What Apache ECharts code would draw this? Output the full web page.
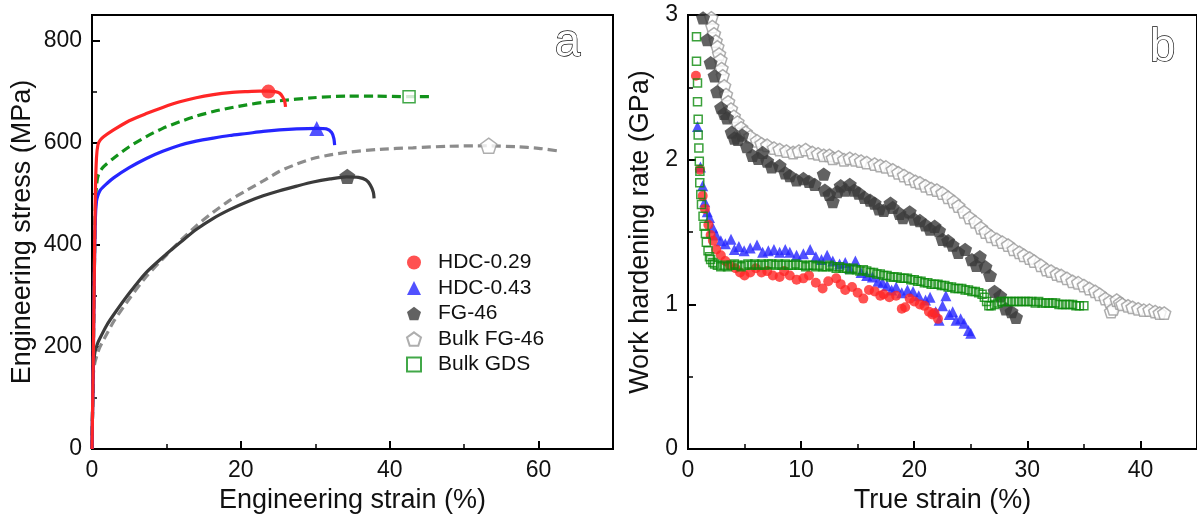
<!DOCTYPE html>
<html><head><meta charset="utf-8">
<script src="https://cdn.jsdelivr.net/npm/echarts@6/dist/echarts.min.js"></script>
<style>html,body{margin:0;padding:0;background:#fff}#c{width:1197px;height:519px}</style>
</head><body><div id="c"></div>
<script>
// ---------- names ----------
const legendNames = ['HDC-0.29', 'HDC-0.43', 'FG-46', 'Bulk FG-46', 'Bulk GDS'];

// ---------- panel a : engineering stress-strain curves [strain %, stress MPa] ----------
const curveHDC029 = [[0,0],[0.15,150],[0.3,330],[0.45,500],[0.6,570],[0.8,596],[1.1,605],[1.6,612],[2.9,625],[5,643],[7.3,657],[9.5,669],[11.8,680],[14,688],[16.3,694],[18.5,698],[20.8,700],[22.5,701],[23.7,701],[24.6,700],[25.2,697],[25.6,690],[25.9,680],[26.0,670]];
const curveHDC043 = [[0,0],[0.15,150],[0.3,330],[0.45,450],[0.6,485],[0.8,497],[1.1,507],[2,520],[2.9,531],[5,551],[7.3,569],[9.5,583],[11.8,595],[14,603],[16.3,609],[18.5,614],[20.8,618],[23,622],[25.2,625],[27.5,627],[30.2,628],[31.5,627],[32.2,620],[32.5,608],[32.6,595]];
const curveFG46 = [[0,0],[0.1,100],[0.2,165],[0.4,190],[0.7,205],[1,215],[2,243],[3,265],[5,305],[7.3,346],[10,382],[11.8,404],[14,430],[16.3,452],[18.5,469],[20.8,484],[23,496],[25.2,506],[27.5,515],[29.7,523],[32,529],[34.2,533],[35.8,532],[36.8,527],[37.4,517],[37.8,503],[37.9,491]];
const curveBulkFG46 = [[0,0],[0.1,100],[0.2,150],[0.4,170],[0.7,185],[1,198],[2,226],[3,252],[5,294],[7.3,338],[10,380],[12,410],[14,437],[16.3,464],[18.5,487],[20.8,507],[23,525],[25.2,544],[27.5,558],[29.7,569],[32,576],[34.2,581],[38.7,587],[43.1,590],[48,593],[53,594],[57,592],[60,589],[63,583]];
const curveBulkGDS = [[0,0],[0.15,150],[0.3,330],[0.45,470],[0.6,515],[0.85,537],[1.5,552],[2.86,569],[5,592],[7.3,612],[9.5,628],[11.8,641],[14,652],[16.3,661],[18.5,668],[20.8,674],[23,679],[25.2,682],[29.7,688],[34.2,691],[38,691],[42.5,690],[45.4,690]];
// ultimate tensile points (markers)
const peakHDC029 = [[23.7,700]];
const peakHDC043 = [[30.2,628]];
const peakFG46 = [[34.3,534]];
const peakBulkFG46 = [[53.3,594]];
const peakBulkGDS = [[42.6,690]];

// ---------- panel b : work hardening rate [true strain %, GPa] ----------
const whHDC029 = [[0.7,2.58],[1.05,1.93],[1.3,1.75],[1.5,1.66],[1.8,1.55],[2.0,1.48],[2.2,1.44],[2.5,1.38],[2.9,1.34],[3.3,1.30],[3.7,1.27],[4.2,1.25],[4.6,1.22],[5.0,1.20],[5.5,1.22],[6.0,1.25],[6.5,1.22],[7.0,1.23],[7.5,1.20],[8.1,1.19],[8.5,1.23],[9.0,1.20],[9.6,1.17],[10.2,1.18],[10.7,1.20],[11.3,1.15],[11.9,1.11],[12.4,1.16],[13.1,1.18],[13.5,1.14],[13.9,1.10],[14.5,1.12],[15.0,1.08],[15.5,1.04],[16.0,1.10],[16.5,1.09],[17.0,1.06],[17.3,1.07],[17.8,1.05],[18.4,1.06],[18.9,0.97],[19.2,0.98],[19.6,1.04],[20.0,1.02],[20.5,1.00],[20.9,0.99],[21.3,0.95],[21.6,0.93],[21.8,0.94],[22.1,0.90]];
const whHDC043 = [[0.84,2.23],[1.1,1.95],[1.3,1.82],[1.48,1.71],[1.7,1.64],[1.9,1.60],[2.2,1.53],[2.5,1.48],[2.9,1.44],[3.3,1.42],[3.8,1.45],[4.1,1.38],[4.5,1.40],[4.96,1.37],[5.5,1.39],[6.1,1.41],[6.6,1.36],[7.1,1.37],[7.6,1.38],[8.1,1.36],[8.6,1.38],[9.0,1.36],[9.6,1.34],[10.2,1.35],[10.8,1.38],[11.3,1.33],[11.8,1.31],[12.3,1.34],[12.8,1.30],[13.4,1.28],[13.9,1.29],[14.3,1.25],[14.8,1.30],[15.3,1.22],[15.8,1.20],[16.3,1.19],[16.8,1.16],[17.2,1.15],[17.6,1.13],[18.0,1.10],[18.4,1.12],[18.9,1.08],[19.4,1.10],[19.9,1.09],[20.4,1.06],[21.0,1.03],[21.4,1.05],[21.9,0.95],[22.2,0.89],[22.5,0.99],[22.8,1.06],[23.1,0.93],[23.4,0.95],[23.7,0.89],[24.1,0.90],[24.4,0.87],[24.8,0.82],[25.0,0.80]];
const whFG46 = [[1.33,2.98],[1.71,2.83],[2.0,2.67],[2.35,2.58],[2.58,2.47],[2.93,2.36],[3.2,2.32],[3.45,2.29],[3.86,2.19],[4.1,2.15],[4.4,2.14],[4.8,2.17],[5.2,2.09],[5.7,2.03],[6.2,2.01],[6.6,2.05],[7.0,1.99],[7.4,1.95],[8.1,1.96],[8.6,1.91],[9.0,1.89],[9.6,1.86],[10.2,1.87],[10.7,1.85],[11.2,1.83],[12.0,1.90],[12.1,1.79],[12.5,1.76],[12.8,1.71],[13.2,1.78],[13.5,1.82],[13.9,1.79],[14.3,1.83],[14.7,1.79],[15.1,1.77],[15.6,1.74],[16.1,1.72],[16.5,1.70],[16.9,1.66],[17.3,1.65],[17.9,1.70],[18.1,1.67],[18.7,1.63],[19.0,1.60],[19.6,1.64],[20.0,1.59],[20.5,1.58],[21.0,1.55],[21.4,1.52],[21.8,1.54],[22.2,1.51],[22.5,1.45],[23.0,1.44],[23.4,1.41],[23.9,1.36],[24.5,1.38],[25.1,1.31],[25.5,1.27],[25.8,1.33],[26.3,1.26],[26.7,1.20],[27.1,1.09],[27.6,1.06],[28.1,0.97],[28.6,0.95],[29.0,0.91]];
const whBulkFG46 = [[2.0,3.02],[2.06,2.98],[2.15,2.92],[2.3,2.87],[2.45,2.82],[2.6,2.78],[2.75,2.73],[2.87,2.69],[2.97,2.63],[3.07,2.58],[3.2,2.51],[3.36,2.45],[3.55,2.40],[3.8,2.35],[4.05,2.30],[4.37,2.26],[4.7,2.22],[5.1,2.19],[5.5,2.16],[6.1,2.13],[6.5,2.11],[7.0,2.10],[7.6,2.08],[8.1,2.07],[8.7,2.06],[9.3,2.05],[9.8,2.06],[10.4,2.07],[11.0,2.05],[11.5,2.04],[12.0,2.03],[12.5,2.03],[12.8,2.01],[13.3,2.02],[13.8,2.00],[14.3,2.01],[14.8,2.00],[15.3,1.99],[15.8,1.98],[16.5,1.97],[17.0,1.96],[17.5,1.95],[18.1,1.93],[18.6,1.91],[19.1,1.89],[19.6,1.87],[20.1,1.85],[20.5,1.84],[21.0,1.82],[21.5,1.80],[22.0,1.79],[22.5,1.77],[23.0,1.74],[23.5,1.71],[23.9,1.68],[24.4,1.64],[24.9,1.60],[25.4,1.57],[25.9,1.53],[26.3,1.50],[26.8,1.47],[27.3,1.45],[27.8,1.43],[28.3,1.41],[28.8,1.38],[29.3,1.36],[29.7,1.34],[30.2,1.32],[30.6,1.30],[31.2,1.27],[31.7,1.24],[32.1,1.23],[32.6,1.21],[33.0,1.20],[33.5,1.18],[34.0,1.16],[34.5,1.15],[35.0,1.13],[35.5,1.11],[36.0,1.09],[36.4,1.07],[36.9,1.04],[37.3,1.02],[37.4,0.95],[37.6,0.97],[37.9,1.03],[38.2,1.01],[38.4,1.00],[38.9,0.99],[39.3,0.98],[39.8,0.97],[40.3,0.96],[40.8,0.96],[41.3,0.95],[41.7,0.94],[42.1,0.94]];
const whBulkGDS = [[0.6,3.02],[0.75,2.85],[0.75,2.68],[0.84,2.53],[0.84,2.40],[0.9,2.28],[0.9,2.17],[0.96,2.08],[1.0,1.99],[1.05,1.92],[1.04,1.84],[1.13,1.76],[1.19,1.69],[1.33,1.61],[1.42,1.54],[1.54,1.49],[1.62,1.43],[1.77,1.37],[1.9,1.33],[2.0,1.31],[2.2,1.29],[2.35,1.28],[2.6,1.27],[2.9,1.26],[3.2,1.27],[3.5,1.26],[3.8,1.27],[4.1,1.28],[4.4,1.27],[4.7,1.26],[5.0,1.27],[5.3,1.28],[5.6,1.27],[5.9,1.28],[6.2,1.27],[6.5,1.28],[6.8,1.27],[7.1,1.28],[7.4,1.28],[7.7,1.27],[8.0,1.28],[8.3,1.27],[8.6,1.28],[8.9,1.27],[9.2,1.27],[9.5,1.28],[9.8,1.27],[10.1,1.27],[10.4,1.26],[10.7,1.27],[11.0,1.27],[11.3,1.26],[11.6,1.27],[11.9,1.26],[12.2,1.26],[12.5,1.27],[12.8,1.26],[13.1,1.25],[13.4,1.26],[13.7,1.25],[14.0,1.25],[14.3,1.24],[14.6,1.25],[14.9,1.24],[15.2,1.23],[15.5,1.24],[15.8,1.23],[16.1,1.22],[16.4,1.22],[16.7,1.21],[17.0,1.21],[17.3,1.20],[17.6,1.20],[17.9,1.19],[18.2,1.19],[18.5,1.19],[18.8,1.18],[19.1,1.18],[19.4,1.18],[19.7,1.17],[20.0,1.17],[20.3,1.16],[20.6,1.16],[20.9,1.15],[21.2,1.15],[21.5,1.14],[21.8,1.14],[22.1,1.14],[22.4,1.13],[22.7,1.13],[23.0,1.12],[23.3,1.12],[23.6,1.11],[23.9,1.11],[24.2,1.11],[24.5,1.10],[24.8,1.10],[25.1,1.09],[25.4,1.09],[25.7,1.08],[26.0,1.07],[26.2,1.05],[26.4,1.02],[26.6,0.99],[26.8,0.99],[27.1,1.00],[27.4,1.01],[27.7,1.02],[28.0,1.02],[28.3,1.02],[28.6,1.02],[28.9,1.02],[29.2,1.02],[29.5,1.02],[29.8,1.02],[30.1,1.02],[30.4,1.02],[30.7,1.01],[31.0,1.02],[31.3,1.01],[31.6,1.01],[31.9,1.01],[32.2,1.01],[32.5,1.01],[32.8,1.00],[33.1,1.00],[33.4,1.00],[33.7,1.00],[34.0,1.00],[34.3,0.99],[34.6,0.99],[35.0,0.99]];

// ---------- axis settings ----------
const axisA_X = {min: 0, max: 70, major: 20, minor: 10, name: 'Engineering strain (%)', showMax: false};
const axisA_Y = {min: 0, max: 850, major: 200, minor: 100, name: 'Engineering stress (MPa)', showMax: false};
const axisB_X = {min: 0, max: 45, major: 10, minor: 5, name: 'True strain (%)', showMax: false};
const axisB_Y = {min: 0, max: 3, major: 1, minor: 0.5, name: 'Work hardening rate (GPa)', showMax: true};

const FONT = "'Liberation Sans', Arial, sans-serif";
const TXT = '#111';
const C = {red: '#ff2626', blue: '#2626ff', dark: '#3b3b3b', grey: '#8c8c8c', greyM: '#9a9a9a', green: '#12921a'};
const PENT = 'path://M50,0 L97.55,34.55 L79.39,90.45 L20.61,90.45 L2.45,34.55 Z';

function mainAxis(dim, grid, a, nameGap) {
  return {
    type: 'value', gridIndex: grid, min: a.min, max: a.max, interval: a.major,
    position: dim === 'x' ? 'bottom' : 'left',
    name: a.name, nameLocation: 'middle', nameGap: nameGap,
    nameTextStyle: {fontFamily: FONT, fontSize: 27, color: TXT},
    axisLine: {show: true, onZero: false, lineStyle: {color: '#000', width: 2}},
    axisTick: {show: true, inside: true, length: 8, lineStyle: {color: '#000', width: 2}},
    axisLabel: {show: true, showMaxLabel: a.showMax, fontFamily: FONT, fontSize: 23, color: TXT, margin: 10},
    splitLine: {show: false}
  };
}
function minorAxis(dim, grid, a) {
  return {
    type: 'value', gridIndex: grid, min: a.min, max: a.max, interval: a.minor,
    position: dim === 'x' ? 'bottom' : 'left',
    axisLine: {show: false, onZero: false},
    axisTick: {show: true, inside: true, length: 5, lineStyle: {color: '#000', width: 1.5}},
    axisLabel: {show: false}, splitLine: {show: false}
  };
}

function curve(name, data, color, dashed) {
  return {type: 'line', name: name + ' curve', xAxisIndex: 0, yAxisIndex: 0, data: data,
    showSymbol: false, symbol: 'none', smooth: 0.25, z: 2, silent: true,
    lineStyle: {color: color, width: 3.2, type: dashed ? [9, 5] : 'solid'}};
}
function peak(name, data, symbol, size, style) {
  return {type: 'scatter', name: name, xAxisIndex: 0, yAxisIndex: 0, data: data,
    symbol: symbol, symbolSize: size, symbolKeepAspect: true, z: 4, itemStyle: style};
}
function wh(name, data, symbol, size, style, z) {
  return {type: 'scatter', name: name, xAxisIndex: 2, yAxisIndex: 2, data: data,
    symbol: symbol, symbolSize: size, symbolKeepAspect: true, z: z, itemStyle: style, clip: true};
}

const chart = echarts.init(document.getElementById('c'), null, {renderer: 'canvas'});
chart.setOption({
  animation: false,
  backgroundColor: '#fff',
  textStyle: {fontFamily: FONT},
  grid: [
    {left: 92, width: 521, top: 15, bottom: 68, show: true, borderColor: '#000', borderWidth: 2, backgroundColor: 'transparent'},
    {left: 688, width: 517, top: 15, bottom: 68, show: true, borderColor: '#000', borderWidth: 2, backgroundColor: 'transparent'}
  ],
  xAxis: [mainAxis('x', 0, axisA_X, 34), minorAxis('x', 0, axisA_X), mainAxis('x', 1, axisB_X, 34), minorAxis('x', 1, axisB_X)],
  yAxis: [mainAxis('y', 0, axisA_Y, 56), minorAxis('y', 0, axisA_Y), mainAxis('y', 1, axisB_Y, 34), minorAxis('y', 1, axisB_Y)],
  legend: {
    data: legendNames, orient: 'vertical', left: 401, top: 247,
    itemWidth: 14, itemHeight: 14, itemGap: 4.5, selectedMode: false,
    textStyle: {fontFamily: FONT, fontSize: 21, color: TXT, padding: [0, 0, 0, 12]}
  },
  graphic: [
    {type: 'text', left: 554, top: 20, style: {text: 'a', font: '46px ' + FONT, fill: '#fff', stroke: '#111', lineWidth: 1.4}},
    {type: 'text', left: 1149, top: 25, style: {text: 'b', font: '46px ' + FONT, fill: '#fff', stroke: '#111', lineWidth: 1.4}}
  ],
  series: [
    curve(legendNames[3], curveBulkFG46, C.grey, true),
    curve(legendNames[4], curveBulkGDS, C.green, true),
    curve(legendNames[2], curveFG46, C.dark, false),
    curve(legendNames[1], curveHDC043, C.blue, false),
    curve(legendNames[0], curveHDC029, C.red, false),
    peak(legendNames[0], peakHDC029, 'circle', 14, {color: C.red}),
    peak(legendNames[1], peakHDC043, 'triangle', 15, {color: C.blue}),
    peak(legendNames[2], peakFG46, PENT, 16, {color: C.dark}),
    peak(legendNames[3], peakBulkFG46, PENT, 16, {color: '#fff', borderColor: C.greyM, borderWidth: 1.5}),
    peak(legendNames[4], peakBulkGDS, 'rect', 12, {color: '#fff', borderColor: C.green, borderWidth: 1.5}),
    wh(legendNames[3], whBulkFG46, PENT, 13, {color: '#fff', borderColor: C.greyM, borderWidth: 1.5}, 2),
    wh(legendNames[2], whFG46, PENT, 14, {color: C.dark}, 3),
    wh(legendNames[1], whHDC043, 'triangle', 11, {color: C.blue}, 4),
    wh(legendNames[0], whHDC029, 'circle', 10, {color: C.red}, 5),
    wh(legendNames[4], whBulkGDS, 'rect', 8, {color: 'transparent', borderColor: '#0a8a0a', borderWidth: 1.5}, 6)
  ]
});
</script></body></html>
